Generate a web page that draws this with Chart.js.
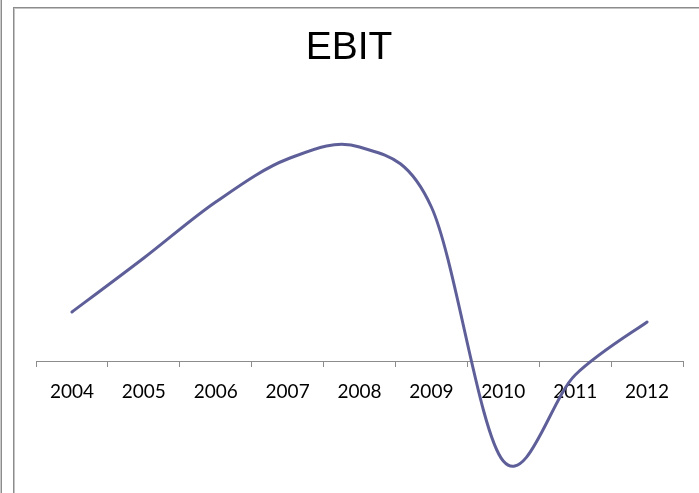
<!DOCTYPE html>
<html>
<head>
<meta charset="utf-8">
<script src="https://cdn.jsdelivr.net/npm/chart.js@4/dist/chart.umd.min.js"></script>
<style>
  html, body { margin: 0; padding: 0; background: #fff; }
  #wrap { position: relative; width: 699px; height: 493px; overflow: hidden; background: #fff; }
  #outer { position: absolute; left: 0; top: 0; width: 1px; height: 493px; border-right: 1px solid #8c8c8c; background: #c8c8c8; }
  #frame { position: absolute; left: 13px; top: 7px; width: 720px; height: 520px; border-left: 1px solid #8c8c8c; border-top: 1px solid #8c8c8c; box-shadow: inset 1px 1px 0 #c4c4c4; }
  #c { position: absolute; left: 0; top: 0; }
</style>
</head>
<body>
<div id="wrap">
  <div id="outer"></div>
  <div id="frame"></div>
  <canvas id="c" width="699" height="493"></canvas>
</div>
<script>
const categories = ['2004', '2005', '2006', '2007', '2008', '2009', '2010', '2011', '2012'];
const ebitValues = [49, 103, 159, 202, 214, 154, -100, -14, 39];
const chartTitle = 'EBIT';

// Excel-style smoothing (uniform Catmull-Rom control points) from the library's own point positions
const excelSmooth = {
  id: 'excelSmooth',
  beforeDatasetDraw(chart, args) {
    const meta = args.meta;
    const line = meta.dataset;
    if (!line) return;
    if (typeof line.updateControlPoints === 'function') line.updateControlPoints(chart.chartArea, 'x');
    const pts = meta.data;
    const n = pts.length;
    for (let i = 0; i < n; i++) {
      const p = pts[i];
      const prev = pts[Math.max(i - 1, 0)];
      const next = pts[Math.min(i + 1, n - 1)];
      const dx = (next.x - prev.x) / 6, dy = (next.y - prev.y) / 6;
      p.cp1x = p.x - dx; p.cp1y = p.y - dy;
      p.cp2x = p.x + dx; p.cp2y = p.y + dy;
    }
    line._path = undefined;
  }
};

new Chart(document.getElementById('c'), {
  type: 'line',
  data: {
    labels: categories,
    datasets: [{
      label: chartTitle,
      data: ebitValues,
      borderColor: '#5E5F99',
      borderWidth: 3,
      pointRadius: 0,
      pointHoverRadius: 0,
      fill: false,
      clip: false,
      tension: 0.4,
      borderCapStyle: 'round'
    }]
  },
  plugins: [excelSmooth],
  options: {
    responsive: false,
    animation: false,
    devicePixelRatio: 1,
    layout: { padding: { left: 15, right: 16, top: 0, bottom: 0 } },
    plugins: {
      legend: { display: false },
      tooltip: { enabled: false },
      title: {
        display: true,
        text: chartTitle,
        color: '#000',
        font: { family: 'Liberation Sans, Arial, sans-serif', size: 39, weight: 'normal', lineHeight: 1.2 },
        padding: { top: 25, bottom: 28.2 }
      }
    },
    scales: {
      x: {
        position: 'bottom',
        offset: true,
        grid: {
          offset: true,
          drawOnChartArea: false,
          drawTicks: true,
          tickLength: 6,
          color: '#8c8c8c',
          lineWidth: 1
        },
        border: { display: true, color: '#8c8c8c', width: 1 },
        ticks: {
          color: '#000',
          padding: 13,
          maxRotation: 0,
          autoSkip: false,
          font: { family: 'Lato, sans-serif', size: 19 }
        },
        afterFit(scale) { scale.height = 132; }
      },
      y: {
        display: true,
        min: 0,
        max: 261,
        grid: { display: false, drawTicks: false },
        border: { display: false },
        ticks: { display: false },
        afterFit(scale) { scale.width = 21; }
      }
    }
  }
});
</script>
</body>
</html>
